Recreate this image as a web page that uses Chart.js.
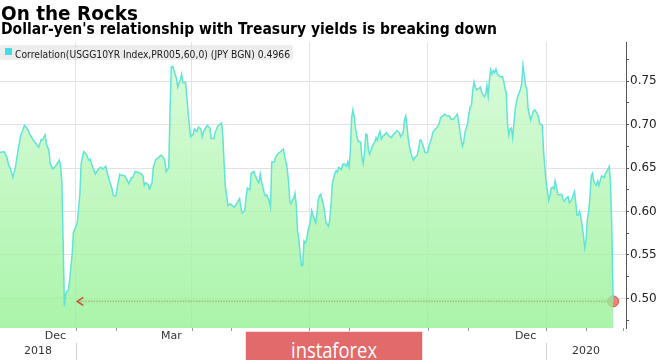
<!DOCTYPE html>
<html>
<head>
<meta charset="utf-8">
<script src="https://cdn.jsdelivr.net/npm/chart.js@4.4.1/dist/chart.umd.min.js"></script>
<style>
  html, body { margin: 0; padding: 0; background: #fff; }
  #wrap { position: relative; width: 665px; height: 360px; overflow: hidden; background: #fff; }
  #c { position: absolute; left: 0; top: 0; }
  .t { position: absolute; white-space: nowrap; transform-origin: 0 0; line-height: 1; }
  #title { left: 1px; top: 0.5px; font: bold 20px 'DejaVu Sans', sans-serif; color: #000; }
  #subtitle { left: 1px; top: 20px; font: bold 15.5px 'DejaVu Sans', sans-serif; color: #000; }
  #legendBand { position: absolute; left: 0; top: 45px; width: 293px; height: 15px; background: rgba(220,220,220,0.5); border-radius: 2px; }
  #legendSwatch { position: absolute; left: 5px; top: 48px; width: 7px; height: 7px; background: #3fdde6; }
  #legendText { left: 15px; top: 47.5px; font: 11px 'DejaVu Sans', sans-serif; color: #1a1a1a; }
  #wm { position: absolute; left: 245px; top: 331px; width: 176px; height: 29px; background: #e26a6a; border: 1px solid #f6dcdc; border-bottom: none; }
  #wmText { left: 291px; top: 334px; font: 22px 'Open Sans', sans-serif; color: #fff; }
</style>
</head>
<body>
<div id="wrap">
  <canvas id="c" width="665" height="360"></canvas>
  <div class="t" id="title" data-w="137">On the Rocks</div>
  <div class="t" id="subtitle" data-w="496">Dollar-yen's relationship with Treasury yields is breaking down</div>
  <div id="legendBand"></div>
  <div id="legendSwatch"></div>
  <div class="t" id="legendText" data-w="275">Correlation(USGG10YR Index,PR005,60,0) (JPY BGN) 0.4966</div>
  <div id="wm"></div>
  <div class="t" id="wmText" data-w="86">instaforex</div>
</div>
<script>
// ---- data (x = days since 2019-01-01) ----
const days = [
  -59,-56,-54,-52,-51,-49,-47,-45,-43,-41,-40,-38,-36,-33,-31,-29,-27,-26,-24,-23,-21,-20,-18,-16,-13,-12,-11,-10,-9,-8,-6,-5,-3,-2,
  1,3,4,6,8,10,11,13,15,17,19,21,23,24,26,28,29,31,32,34,35,38,
  40,41,43,44,46,48,50,52,53,54,56,57,59,60,62,64,66,68,69,70,72,73,74,75,77,78,79,81,82,83,85,86,87,89,91,92,94,95,97,98,99,
  101,102,104,105,107,108,110,112,113,114,115,116,118,120,121,123,125,127,128,129,131,132,133,135,
  136,138,139,141,142,143,144,146,147,148,150,151,152,154,155,157,159,161,162,164,165,166,167,168,169,170,171,172,173,174,175,176,177,178,179,180,
  182,183,184,186,187,188,189,190,192,193,194,196,197,198,199,201,202,203,204,206,207,208,210,211,212,213,214,215,216,217,218,219,221,222,223,224,
  225,226,227,228,230,231,232,
  233,234,235,236,237,238,240,241,243,245,246,248,249,251,252,254,255,256,257,258,259,260,262,263,265,266,267,268,270,271,273,274,276,277,279,280,
  282,283,285,286,288,290,291,293,294,296,297,298,299,300,301,302,304,305,306,307,308,309,310,311,313,314,315,317,318,319,320,321,322,323,324,325,
  326,327,328,329,
  331,332,333,334,335,336,337,338,339,341,342,343,345,346,347,348,349,350,351,353,354,355,356,358,359,360,362,363,364,365,367,368,369,370,371,372,
  373,374,375,377,378,379,381,382,383,385,386,387,388,389,390,391,392,393,394,395,396,397,398,399,400,401,402,403,404,405,406,407,408,410,411,412,
  414,415,416,417
];
const corr = [
  .668,.669,.664,.652,.650,.639,.651,.670,.687,.695,.699,.696,.689,.682,.678,.674,.683,.682,.688,.678,.670,.655,.649,.652,.659,.653,.635,.566,.491,.505,.510,.520,.551,.576,
  .587,.620,.655,.669,.666,.659,.660,.651,.643,.648,.651,.649,.652,.646,.635,.626,.618,.618,.628,.643,.642,.641,
  .635,.632,.639,.639,.646,.645,.644,.641,.630,.633,.631,.626,.633,.651,.660,.662,.665,.662,.658,.646,.650,.715,.766,.767,.758,.753,.743,.752,.758,.748,.749,.733,.714,.686,.689,.695,.692,.697,.695,.686,.692,
  .697,.699,.696,.684,.684,.691,.698,.701,.702,.687,.655,.628,.607,.609,.607,.605,.610,.615,.605,.598,.601,.616,.627,.625,
  .644,.646,.642,.635,.633,.643,.635,.622,.618,.619,.612,.605,.657,.657,.663,.667,.669,.672,.664,.649,.635,.612,.609,.613,.615,.621,.608,.578,.568,.551,.538,.538,.566,.564,.567,.577,
  .589,.601,.596,.587,.597,.613,.618,.620,.608,.599,.588,.583,.591,.608,.632,.644,.647,.645,.651,.648,.654,.655,.652,.657,.651,.670,.708,.717,.709,.696,.687,.681,.680,.662,.655,.668,
  .689,.688,.670,.666,.675,.678,.680,
  .685,.682,.688,.692,.683,.686,.689,.691,.687,.685,.688,.691,.693,.691,.686,.691,.705,.710,.698,.683,.674,.667,.659,.662,.665,.672,.682,.682,.673,.668,.668,.675,.684,.691,.695,.696,
  .701,.708,.710,.712,.710,.710,.706,.706,.708,.712,.704,.694,.683,.675,.680,.691,.701,.712,.720,.722,.739,.749,.743,.740,.742,.743,.737,.732,.735,.745,.733,.752,.763,.758,.762,.760,
  .764,.758,.757,.755,
  .755,.750,.742,.737,.701,.688,.695,.696,.685,.718,.726,.733,.740,.747,.768,.757,.745,.741,.718,.705,.710,.715,.717,.713,.709,.701,.699,.670,.651,.633,.613,.619,.627,.628,.626,.635,
  .628,.620,.619,.620,.615,.612,.616,.617,.610,.614,.619,.623,.610,.596,.596,.600,.593,.583,.572,.558,.567,.591,.600,.616,.641,.644,.635,.632,.630,.635,.630,.636,.641,.639,.644,.646,
  .652,.632,.580,.4966
];
const lastValue = 0.4966;          // label value in legend
const arrowStartDay = 1;           // arrow annotation back to early Jan 2019

// axis labels / ticks (days since 2019-01-01)
const gridDays = [0, 90, 181, 273, 365];                 // quarter starts
const monthTickDays = [0, 31, 90, 120, 181, 212, 273, 304, 365, 396, 425];
const monthLabelDays = [-16, 74, 165, 257, 349];
const monthLabelText = ['Dec', 'Mar', 'Jun', 'Sep', 'Dec'];
const yearLabelDays = [-29.5, 396];
const yearLabelText = ['2018', '2020'];
const yearSepDays = [0, 365];
const yTicks = [0.475, 0.50, 0.525, 0.55, 0.575, 0.60, 0.625, 0.65, 0.675, 0.70, 0.725, 0.75, 0.775];

const isMajorY = v => Math.round(v * 1000) % 50 === 0;

const points = days.map((d, i) => ({ x: d, y: corr[i] }));
const lastDay = days[days.length - 1];

const decor = {
  id: 'decor',
  afterDatasetsDraw(chart) {
    const { ctx } = chart;
    ctx.save();
    const p = chart.getDatasetMeta(1).data[0];
    ctx.strokeStyle = '#c8503c';
    ctx.lineWidth = 1.6;
    ctx.beginPath();
    ctx.moveTo(p.x + 6, p.y - 4);
    ctx.lineTo(p.x, p.y);
    ctx.lineTo(p.x + 6, p.y + 4);
    ctx.stroke();
    ctx.restore();
  },
  afterDraw(chart) {
    const { ctx, chartArea: a, scales: { x } } = chart;
    ctx.save();
    ctx.strokeStyle = '#9a9a9a';
    ctx.lineWidth = 1;
    monthTickDays.forEach(d => {
      const px = Math.round(x.getPixelForValue(d)) + 0.5;
      ctx.beginPath(); ctx.moveTo(px, a.bottom); ctx.lineTo(px, a.bottom + 3); ctx.stroke();
    });
    ctx.strokeStyle = '#d0d0d0';
    yearSepDays.forEach(d => {
      const px = Math.round(x.getPixelForValue(d)) + 0.5;
      ctx.beginPath(); ctx.moveTo(px, a.bottom + 15); ctx.lineTo(px, chart.height); ctx.stroke();
    });
    ctx.restore();
  }
};

new Chart(document.getElementById('c'), {
  type: 'line',
  data: {
    datasets: [
      {
        label: 'Correlation(USGG10YR Index,PR005,60,0) (JPY BGN)',
        data: points,
        borderColor: 'rgb(96,228,216)',
        borderWidth: 1.5,
        pointRadius: 0,
        tension: 0,
        fill: 'start',
        backgroundColor: (c) => {
          const a = c.chart.chartArea;
          if (!a) return 'rgba(160,244,160,0.75)';
          const g = c.chart.ctx.createLinearGradient(0, a.top, 0, a.bottom);
          g.addColorStop(0, 'rgba(212,251,212,0.8)');
          g.addColorStop(1, 'rgba(145,241,145,0.77)');
          return g;
        }
      },
      {
        label: 'arrow',
        data: [{ x: arrowStartDay, y: lastValue }, { x: lastDay, y: lastValue }],
        borderColor: '#c8503c',
        borderWidth: 2.2,
        borderDash: [1.6, 1.1],
        fill: false,
        clip: false,
        pointRadius: [0, 5.5],
        pointBackgroundColor: 'rgba(240,108,100,0.88)',
        pointBorderColor: '#d9564e',
        pointBorderWidth: 1
      }
    ]
  },
  options: {
    responsive: false,
    animation: false,
    layout: { autoPadding: false, padding: { top: 42, left: 0, right: 0, bottom: 0 } },
    plugins: { legend: { display: false }, tooltip: { enabled: false } },
    scales: {
      x: {
        type: 'linear',
        min: -59,
        max: 427,
        afterBuildTicks(s) {
          const vals = [...gridDays, ...monthLabelDays, ...yearLabelDays].sort((a, b) => a - b);
          s.ticks = vals.map(v => ({ value: v }));
        },
        afterFit(s) { s.height = 32; s.paddingLeft = 0; s.paddingRight = 0; },
        ticks: {
          autoSkip: false, maxRotation: 0, minRotation: 0, padding: 1,
          color: '#333',
          font: { family: 'DejaVu Sans', size: 11, lineHeight: 1.35 },
          callback: (v) => {
            const mi = monthLabelDays.indexOf(v);
            if (mi >= 0) return monthLabelText[mi];
            const yi = yearLabelDays.indexOf(v);
            if (yi >= 0) return ['', yearLabelText[yi]];
            return '';
          }
        },
        grid: {
          drawTicks: false,
          lineWidth: 1,
          color: (c) => (c.tick && gridDays.includes(c.tick.value)) ? '#e4e4e4' : 'rgba(0,0,0,0)'
        },
        border: { display: false }
      },
      y: {
        position: 'right',
        min: 0.466,
        max: 0.795,
        afterBuildTicks(s) { s.ticks = yTicks.map(v => ({ value: v })); },
        afterFit(s) { s.width = 39; s.paddingTop = 0; s.paddingBottom = 0; },
        ticks: {
          padding: 1,
          color: '#222',
          font: { family: 'DejaVu Sans', size: 12 },
          callback: (v) => isMajorY(v) ? v.toFixed(2) : ''
        },
        grid: {
          drawTicks: true,
          tickLength: 3,
          tickColor: '#555',
          color: (c) => (c.tick && isMajorY(c.tick.value)) ? '#e2e2e2' : 'rgba(0,0,0,0)'
        },
        border: { display: true, color: '#555', width: 1 }
      }
    }
  },
  plugins: [decor]
});

// fit text widths to the reference
document.querySelectorAll('[data-w]').forEach(el => {
  const w = el.getBoundingClientRect().width;
  const target = parseFloat(el.dataset.w);
  if (w > 0) el.style.transform = 'scaleX(' + (target / w) + ')';
});
</script>
</body>
</html>
